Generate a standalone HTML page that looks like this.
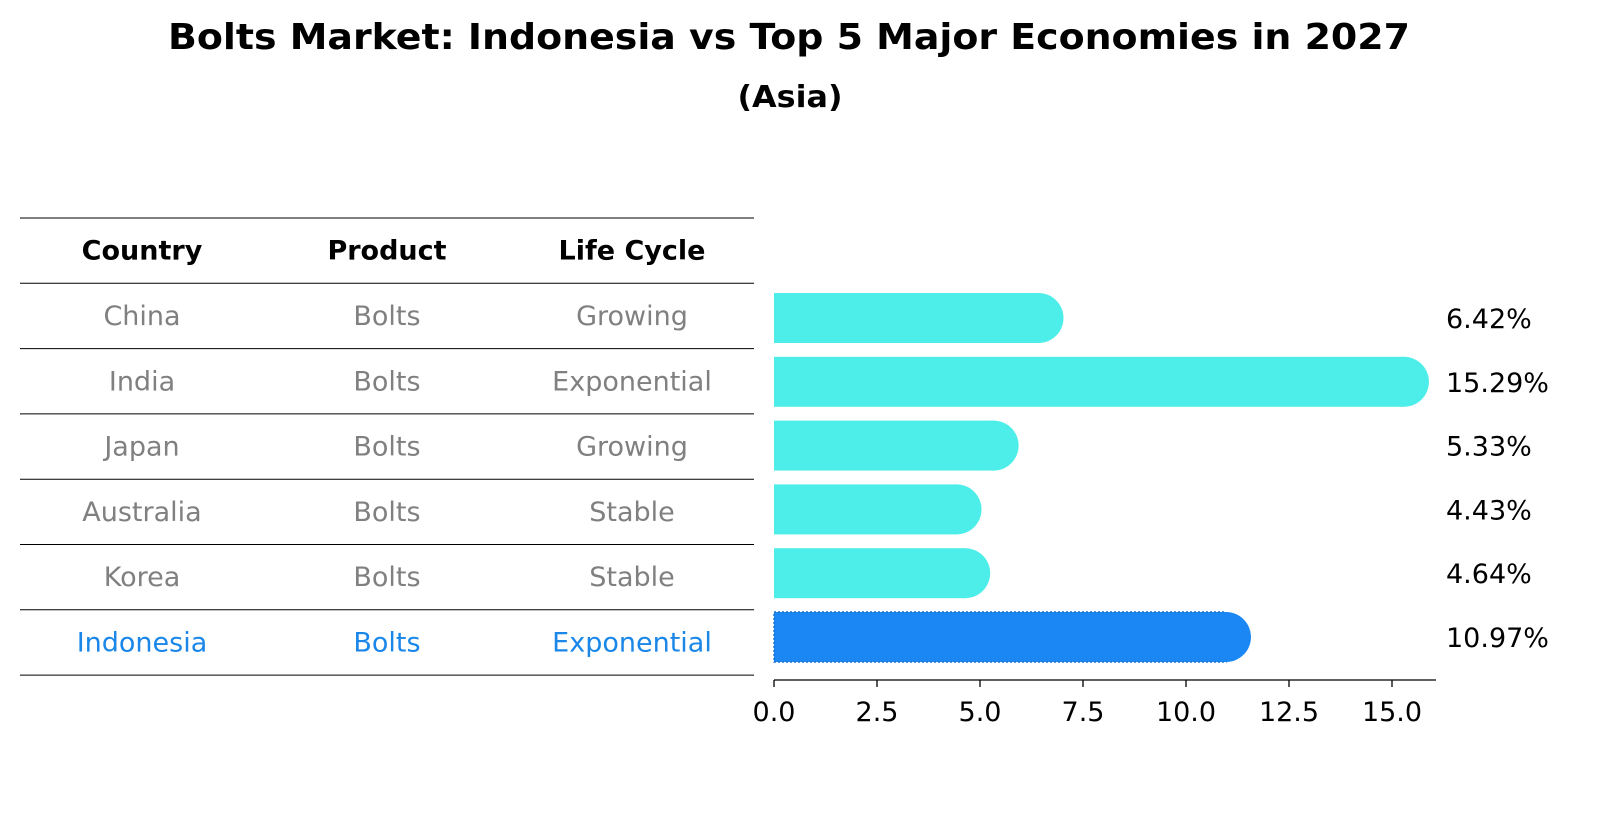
<!DOCTYPE html>
<html><head><meta charset="utf-8"><style>
body{margin:0;background:#fff;font-family:"Liberation Sans","DejaVu Sans",sans-serif;}
</style></head><body>
<svg width="1604" height="823" xmlns="http://www.w3.org/2000/svg" font-family="DejaVu Sans, Liberation Sans, sans-serif">
<text x="789" y="49" text-anchor="middle" font-size="36" font-weight="bold" textLength="1242" lengthAdjust="spacingAndGlyphs">Bolts Market: Indonesia vs Top 5 Major Economies in 2027</text>
<text x="790" y="107" text-anchor="middle" font-size="30" font-weight="bold" textLength="105" lengthAdjust="spacingAndGlyphs">(Asia)</text>
<g id="table"></g>
<g id="bars"></g>
</svg>
<script>
const countries=["China","India","Japan","Australia","Korea","Indonesia"];
const products=["Bolts","Bolts","Bolts","Bolts","Bolts","Bolts"];
const lifeCycles=["Growing","Exponential","Growing","Stable","Stable","Exponential"];
const values=[6.42,15.29,5.33,4.43,4.64,10.97];
const ticks=[0,2.5,5,7.5,10,12.5,15];
const NS="http://www.w3.org/2000/svg";
function mk(tag,attrs,parent){const e=document.createElementNS(NS,tag);for(const k in attrs)e.setAttribute(k,attrs[k]);parent.appendChild(e);return e;}
const tbl=document.getElementById('table');
const bars=document.getElementById('bars');
const x0=774,xs=41.2;
function X(v){return x0+v*xs;}
const rowTop=218,rowH=65.3;
const FS=27;
function lineAt(y){const l=mk('line',{x1:20,x2:754,y1:y,y2:y,stroke:'#000','stroke-width':1},tbl);

}
for(let i=0;i<=countries.length+1;i++)lineAt(rowTop+i*rowH);
const colX=[142,387,632];
["Country","Product","Life Cycle"].forEach((h,j)=>{const t=mk('text',{x:colX[j],y:rowTop+rowH/2+9,'text-anchor':'middle','font-size':FS,'font-weight':'bold'},tbl);t.textContent=h;

});
countries.forEach((c,i)=>{const y=rowTop+(i+1.5)*rowH+9;const col=c==="Indonesia"?"#1a87e8":"#808080";
[c,products[i],lifeCycles[i]].forEach((s,j)=>{const t=mk('text',{x:colX[j],y:y,'text-anchor':'middle','font-size':FS,fill:col},tbl);t.textContent=s;

});
const cy=318+i*63.8;const indo=c==="Indonesia";const color=indo?"#1a87f5":"#4deee9";
const w=X(values[i])-x0;
const r=mk('rect',{x:x0,y:cy-25,width:w,height:50,fill:color},bars);


if(indo){r.setAttribute('stroke','#1570d0');r.setAttribute('stroke-dasharray','2,2');r.setAttribute('stroke-width','1.5');}
const cap=mk('circle',{cx:X(values[i]),cy:cy,r:25,fill:color},bars);


const lab=mk('text',{x:1446,y:cy+10,'font-size':FS},bars);lab.textContent=values[i].toFixed(2)+"%";

});
const ax=mk('line',{x1:x0,x2:1436,y1:680,y2:680,stroke:'#000','stroke-width':1.3},bars);


ticks.forEach(t=>{const l=mk('line',{x1:X(t),x2:X(t),y1:680,y2:687,stroke:'#000','stroke-width':1.3},bars);


const tx=mk('text',{x:X(t),y:721,'text-anchor':'middle','font-size':FS},bars);tx.textContent=t.toFixed(1);

});
</script>
</body></html>
